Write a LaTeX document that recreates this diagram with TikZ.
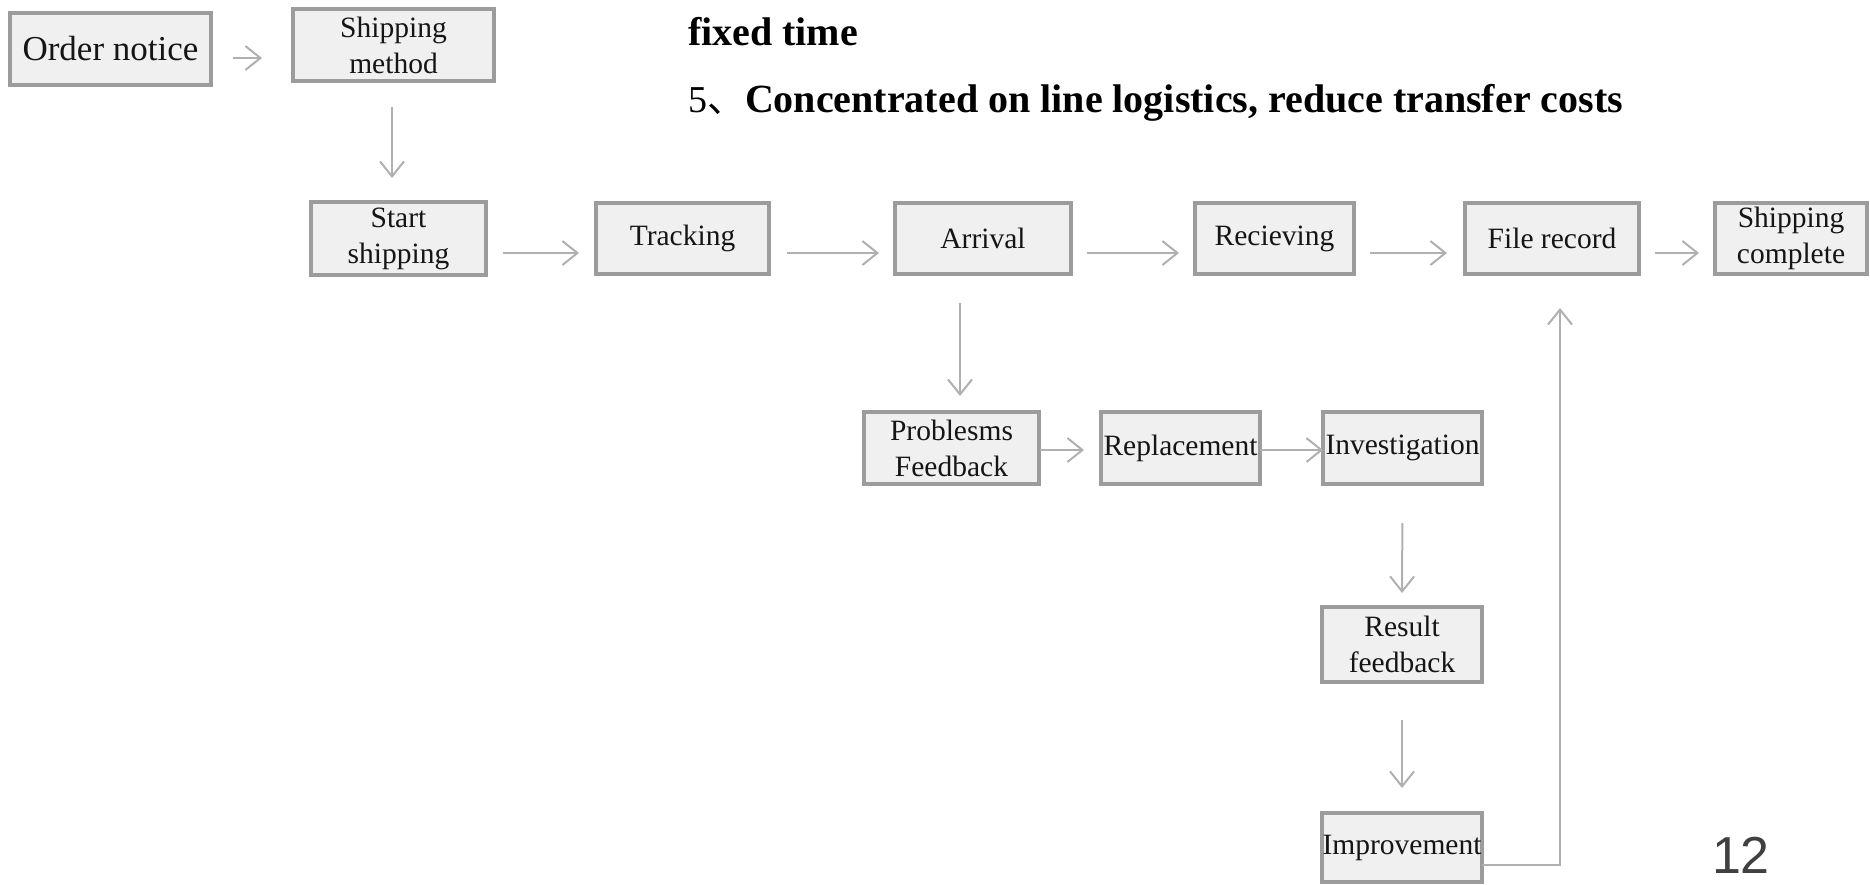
\documentclass[tikz,border=0pt]{standalone}
\usepackage{fontspec}
\setmainfont{Liberation Serif}
\newfontfamily\cjkfont{Noto Sans CJK SC}
\newfontfamily\numfont{Liberation Sans}
\usetikzlibrary{arrows.meta}
\definecolor{boxline}{HTML}{9C9C9C}
\definecolor{boxfill}{HTML}{F0F0F0}
\definecolor{arrowgray}{HTML}{B0B0B0}
\definecolor{pagenum}{HTML}{404040}
\definecolor{boxtext}{HTML}{151515}
\begin{document}
\begin{tikzpicture}[x=1pt,y=-1pt,
  flowbox/.style={draw=boxline, fill=boxfill, line width=3.5pt, inner sep=0pt, outer sep=0pt,
    align=center, font=\fontsize{29.5}{36}\selectfont, text=boxtext},
  arr/.style={draw=arrowgray, line width=2pt, -{Straight Barb[length=15pt,width=24pt]}},
  headtext/.style={anchor=base west, inner sep=0pt, outer sep=0pt, text=black}]
\useasboundingbox (0,0) rectangle (1870,884);

% top row
\node[flowbox, minimum width=201pt, minimum height=72pt, font=\fontsize{35}{40}\selectfont] (order) at (110.5,49) {Order notice};
\node[flowbox, minimum width=201pt, minimum height=72pt] (shipm) at (393.5,45) {Shipping\\method};

% main row
\node[flowbox, minimum width=175pt, minimum height=73pt] (start) at (398.5,238.5) {Start\\shipping};
\node[flowbox, minimum width=173pt, minimum height=71pt] (track) at (682.5,238.5) {Tracking};
\node[flowbox, minimum width=176pt, minimum height=71pt] (arriv) at (983,238.5) {Arrival};
\node[flowbox, minimum width=159pt, minimum height=71pt] (recv) at (1274.5,238.5) {Recieving};
\node[flowbox, minimum width=174pt, minimum height=71pt] (file) at (1552,238.5) {File record};
\node[flowbox, minimum width=152pt, minimum height=71pt] (shipc) at (1791,238.5) {Shipping\\complete};

% problem row
\node[flowbox, minimum width=175pt, minimum height=72pt] (prob) at (951.5,448) {Problesms\\Feedback};
\node[flowbox, minimum width=159pt, minimum height=72pt] (repl) at (1180.5,448) {Replacement};
\node[flowbox, minimum width=159pt, minimum height=72pt] (inv) at (1402.5,448) {Investigation};
\node[flowbox, minimum width=160pt, minimum height=75pt] (res) at (1402,644.5) {Result\\feedback};
\node[flowbox, minimum width=160pt, minimum height=69pt] (impr) at (1402,847.5) {Improvement};

% heading text
\node[headtext, font=\fontsize{40}{48}\selectfont\bfseries] (fixed) at (688,45) {fixed time};
\node[headtext, font=\fontsize{38}{44}\selectfont] (five) at (688,112) {5\cjkfont 、};
\node[headtext, font=\fontsize{40}{48}\selectfont\bfseries] (conc) at (745,112) {Concentrated on line logistics, reduce transfer costs};

% page number
\node[headtext, font=\numfont\fontsize{52}{60}\selectfont, text=pagenum] (pnum) at (1712,873) {12};

% connectors
\draw[arr, shorten <=22pt, shorten >=31pt] ([yshift=-9pt]order.east) -- ([yshift=-13pt]shipm.west);
\draw[arr, shorten <=26pt, shorten >=24pt] ([xshift=-1.5pt]shipm.south) -- ([xshift=-6.5pt]start.north);
\draw[arr, shorten <=17pt, shorten >=17pt] ([yshift=-14.5pt]start.east) -- ([yshift=-14.5pt]track.west);
\draw[arr, shorten <=18pt, shorten >=16pt] ([yshift=-14.5pt]track.east) -- ([yshift=-14.5pt]arriv.west);
\draw[arr, shorten <=16pt, shorten >=16pt] ([yshift=-14.5pt]arriv.east) -- ([yshift=-14.5pt]recv.west);
\draw[arr, shorten <=16pt, shorten >=18pt] ([yshift=-14.5pt]recv.east) -- ([yshift=-14.5pt]file.west);
\draw[arr, shorten <=16pt, shorten >=16pt] ([yshift=-14.5pt]file.east) -- ([yshift=-14.5pt]shipc.west);
\draw[arr, shorten <=29pt, shorten >=16pt] ([xshift=-23pt]arriv.south) -- ([xshift=8.5pt]prob.north);
\draw[arr, shorten <=1pt, shorten >=17pt] ([yshift=-2pt]prob.east) -- ([yshift=-2pt]repl.west);
\draw[arr] ([yshift=-2pt]repl.east) -- ([yshift=-2pt]inv.west);
\draw[arr, shorten <=39pt, shorten >=14pt] (inv.south) -- (res.north);
\draw[arr, shorten <=38pt, shorten >=25pt] (res.south) -- (impr.north);
\draw[arr, shorten >=34pt] ([yshift=-17.5pt]impr.east) -| ([xshift=8pt]file.south);
\end{tikzpicture}
\end{document}
